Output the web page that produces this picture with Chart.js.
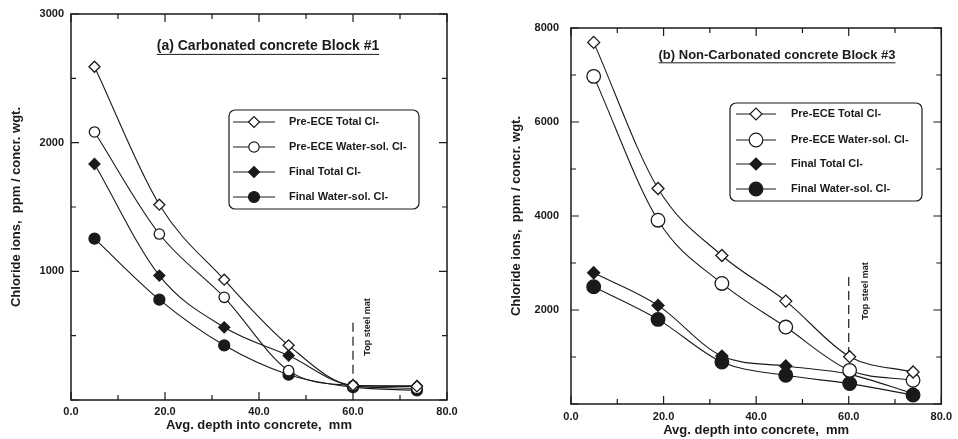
<!DOCTYPE html>
<html><head><meta charset="utf-8">
<script src="https://cdn.jsdelivr.net/npm/chart.js@4/dist/chart.umd.min.js"></script>
<style>
html,body{margin:0;padding:0;background:#fff;overflow:hidden;}
#wrap{position:relative;width:958px;height:439px;}
.c{position:absolute;top:0;width:479px;height:439px;}
</style></head><body>
<div id="wrap">
<div class="c" style="left:0"><canvas id="ca" width="479" height="439"></canvas></div>
<div class="c" style="left:479px"><canvas id="cb" width="479" height="439"></canvas></div>
</div>
<script>
// ---- data (panel a: Carbonated concrete Block #1) ----
const depthA = [5, 18.8, 32.6, 46.3, 60, 73.6];
const preTotalA = [2590, 1518, 935, 425, 114, 106];
const preWaterA = [2083, 1290, 798, 228, 110, 90];
const finalTotalA = [1834, 967, 565, 345, 115, 110];
const finalWaterA = [1254, 780, 425, 197, 100, 75];

// ---- data (panel b: Non-Carbonated concrete Block #3) ----
const depthB = [4.9, 18.8, 32.6, 46.4, 60.2, 73.9];
const preTotalB = [7694, 4585, 3160, 2189, 1007, 680];
const preWaterB = [6971, 3911, 2565, 1637, 716, 504];
const finalTotalB = [2793, 2098, 1020, 808, 631, 221];
const finalWaterB = [2495, 1800, 893, 610, 434, 191];

const seriesLabels = ['Pre-ECE Total Cl-', 'Pre-ECE Water-sol. Cl-', 'Final Total Cl-', 'Final Water-sol. Cl-'];
const titleA = '(a) Carbonated concrete Block #1';
const titleB = '(b) Non-Carbonated concrete Block #3';
const xTitle = 'Avg. depth into concrete,  mm';
const yTitle = 'Chloride ions,  ppm / concr. wgt.';
const steelLabel = 'Top steel mat';
const steelDepth = 60;

const FONT = "'Liberation Sans', Arial, sans-serif";
const INK = '#1a1a1a';
const markerStyles = [
  {style: 'rectRot', fill: '#ffffff'},
  {style: 'circle', fill: '#ffffff'},
  {style: 'rectRot', fill: INK},
  {style: 'circle', fill: INK}
];

const deco = {
  id: 'deco',
  afterDatasetsDraw(chart, args, o) {
    const ctx = chart.ctx, a = chart.chartArea;
    const xs = chart.scales.x, ys = chart.scales.y;
    ctx.save();
    // frame
    ctx.strokeStyle = INK; ctx.lineWidth = 1.5;
    ctx.strokeRect(a.left, a.top, a.right - a.left, a.bottom - a.top);
    // inward ticks
    ctx.lineWidth = 1.2;
    ctx.beginPath();
    xs.ticks.forEach(t => {
      const p = xs.getPixelForValue(t.value);
      const L = (t.value % 20 === 0) ? 8 : 5;
      ctx.moveTo(p, a.bottom); ctx.lineTo(p, a.bottom - L);
      ctx.moveTo(p, a.top); ctx.lineTo(p, a.top + L);
    });
    ys.ticks.forEach(t => {
      const p = ys.getPixelForValue(t.value);
      const L = (t.value % o.yMajor === 0) ? 8 : 5;
      ctx.moveTo(a.left, p); ctx.lineTo(a.left + L, p);
      ctx.moveTo(a.right, p); ctx.lineTo(a.right - L, p);
    });
    ctx.stroke();
    // title (underlined)
    ctx.fillStyle = INK;
    ctx.font = 'bold ' + o.titleSize + 'px ' + FONT;
    ctx.textAlign = 'center'; ctx.textBaseline = 'middle';
    ctx.fillText(o.title, o.titleX, o.titleY);
    const tw = ctx.measureText(o.title).width;
    ctx.lineWidth = 1;
    ctx.beginPath();
    ctx.moveTo(o.titleX - tw / 2, o.titleY + o.titleSize * 0.6);
    ctx.lineTo(o.titleX + tw / 2, o.titleY + o.titleSize * 0.6);
    ctx.stroke();
    // legend box
    const L = o.legend;
    ctx.lineWidth = 1.2;
    ctx.beginPath();
    ctx.roundRect(L.x, L.y, L.w, L.h, 6);
    ctx.stroke();
    chart.data.datasets.forEach((ds, i) => {
      const ry = L.rows[i];
      ctx.strokeStyle = INK; ctx.lineWidth = 1;
      ctx.beginPath();
      ctx.moveTo(L.lx0, ry); ctx.lineTo(L.lx1, ry);
      ctx.stroke();
      ctx.fillStyle = ds.pointBackgroundColor;
      ctx.strokeStyle = INK;
      ctx.lineWidth = 1.2;
      Chart.helpers.drawPoint(ctx, {pointStyle: ds.pointStyle, radius: ds.pointRadius, rotation: 0, borderWidth: 1.2}, (L.lx0 + L.lx1) / 2, ry);
      ctx.fillStyle = INK;
      ctx.font = 'bold ' + L.size + 'px ' + FONT;
      ctx.textAlign = 'left'; ctx.textBaseline = 'middle';
      ctx.fillText(ds.label, L.tx, ry);
    });
    // top steel mat marker
    const sx = xs.getPixelForValue(steelDepth);
    ctx.strokeStyle = INK;
    ctx.setLineDash([9, 5]);
    ctx.lineWidth = 1.2;
    ctx.beginPath();
    ctx.moveTo(sx, ys.getPixelForValue(o.steelFrom));
    ctx.lineTo(sx, ys.getPixelForValue(o.steelTo));
    ctx.stroke();
    ctx.setLineDash([]);
    ctx.save();
    ctx.translate(sx + o.steelDx, o.steelY);
    ctx.rotate(-Math.PI / 2);
    ctx.font = 'bold 9px ' + FONT;
    ctx.textAlign = 'center'; ctx.textBaseline = 'middle';
    ctx.fillText(steelLabel, 0, 0);
    ctx.restore();
    ctx.restore();
  }
};

function makeChart(id, c) {
  const series = c.series;
  return new Chart(document.getElementById(id), {
    type: 'line',
    data: {
      datasets: series.map((s, i) => ({
        label: seriesLabels[i],
        data: c.depth.map((x, j) => ({x: x, y: s[j]})),
        borderColor: INK,
        borderWidth: 1.1,
        backgroundColor: markerStyles[i].fill,
        pointBackgroundColor: markerStyles[i].fill,
        pointBorderColor: INK,
        pointBorderWidth: 1.3,
        pointStyle: markerStyles[i].style,
        pointRadius: c.radius[i],
        fill: false,
        cubicInterpolationMode: 'monotone',
        tension: 0.4
      }))
    },
    options: {
      responsive: false,
      animation: false,
      layout: {padding: {left: 0, right: c.padR, top: c.padT, bottom: 0}},
      plugins: {legend: {display: false}, tooltip: {enabled: false}, deco: c.deco},
      scales: {
        x: {
          type: 'linear', min: 0, max: 80,
          grid: {display: false, drawTicks: false},
          border: {display: false},
          ticks: {stepSize: 10, autoSkip: false, maxRotation: 0, padding: c.xPad, color: INK,
            font: {family: FONT, size: 11, weight: 'bold'},
            callback: v => (v % 20 === 0 ? v.toFixed(1) : '')},
          title: {display: true, text: xTitle, color: INK, font: {family: FONT, size: 13, weight: 'bold'},
            padding: {top: 0, bottom: c.xTitlePad}},
          afterFit: s => { s.height = c.xH; }
        },
        y: {
          type: 'linear', min: 0, max: c.yMax,
          grid: {display: false, drawTicks: false},
          border: {display: false},
          ticks: {stepSize: c.yStep, autoSkip: false, padding: c.yPad, color: INK,
            font: {family: FONT, size: 11, weight: 'bold'},
            callback: v => ((v % c.deco.yMajor === 0 && v !== 0) ? String(v) : '')},
          title: {display: true, text: yTitle, color: INK, font: {family: FONT, size: 13, weight: 'bold'},
            padding: {top: c.yTitlePad, bottom: 0}},
          afterFit: s => { s.width = c.yW; }
        }
      }
    },
    plugins: [deco]
  });
}

makeChart('ca', {
  depth: depthA,
  series: [preTotalA, preWaterA, finalTotalA, finalWaterA],
  radius: [5.5, 5.2, 5.5, 5.5],
  yMax: 3000, yStep: 500,
  padR: 32, padT: 14, xH: 39, yW: 71,
  xPad: 5, yPad: 7, xTitlePad: 6, yTitlePad: 9,
  deco: {
    yMajor: 1000,
    title: titleA, titleX: 268, titleY: 46, titleSize: 14,
    legend: {x: 229, y: 110, w: 190, h: 99, rows: [122, 147, 172, 197], lx0: 233, lx1: 275, tx: 289, size: 11},
    steelFrom: 600, steelTo: 150, steelDx: 15, steelY: 327
  }
});

makeChart('cb', {
  depth: depthB,
  series: [preTotalB, preWaterB, finalTotalB, finalWaterB],
  radius: [6, 6.8, 6, 6.8],
  yMax: 8000, yStep: 1000,
  padR: 13, padT: 28, xH: 35, yW: 92,
  xPad: 6, yPad: 12, xTitlePad: 1, yTitlePad: 30,
  deco: {
    yMajor: 2000,
    title: titleB, titleX: 298, titleY: 55, titleSize: 13,
    legend: {x: 251, y: 103, w: 192, h: 98, rows: [114, 140, 164, 189], lx0: 257, lx1: 297, tx: 312, size: 11},
    steelFrom: 2700, steelTo: 1100, steelDx: 17, steelY: 291
  }
});
</script>
</body></html>
